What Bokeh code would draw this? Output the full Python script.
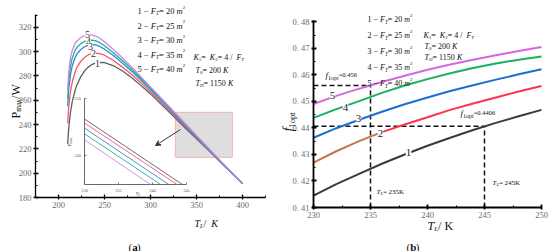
import math
from bokeh.plotting import figure
from bokeh.layouts import row
from bokeh.models import (Label, Range1d, SingleIntervalTicker, FixedTicker, Arrow, VeeHead,
                          LinearAxis)
from bokeh.core.properties import value
from bokeh.embed import file_html
from bokeh.resources import INLINE

FONT = "Liberation Serif"
H = 251

# ---------------- panel (a) data ----------------
T_a = [210, 211, 213, 215, 218, 220, 224, 228, 232, 236, 240, 245, 250, 260, 270, 280, 290, 300, 320, 340, 360, 380, 400]
P_F20 = [224, 236, 250, 259, 268, 272.5, 279, 283.8, 287, 289.2, 290.5, 291.2, 291, 288.3, 283.8, 278.3, 271.8, 265.2, 250.5, 235.5, 221, 206, 191.5]
P_F25 = [241, 254, 267, 275, 283, 287, 291.8, 295, 297.2, 298.4, 298.7, 298.3, 297, 292.5, 287, 281, 274, 267, 252, 236.8, 221.5, 206.4, 191.5]
P_F30 = [255, 268, 281, 288.5, 295, 298, 301.5, 303.8, 305.1, 305.7, 305.5, 304.2, 302, 296.5, 290.2, 283.5, 276.2, 268.8, 253.3, 237.8, 222, 206.6, 191.5]
P_F35 = [261, 275, 288, 295, 301, 303.5, 306.5, 308.3, 309.3, 309.5, 309, 307.3, 304.8, 298.8, 292.2, 285.2, 277.7, 270, 254.2, 238.3, 222.5, 206.8, 191.5]
P_F40 = [268, 282, 295, 301, 306.5, 308.5, 311.5, 313, 313.7, 313.7, 313, 311, 308, 301.5, 294.5, 287, 279, 271, 255, 239, 223, 207, 191.5]
curve_ids = ["1", "2", "3", "4", "5"]
F_T = [20, 25, 30, 35, 40]
T_axis_a = [175, 425]
P_axis_a = [180, 330.5]

# zoomed region and inset data
zoom_box_T = [327, 389]
zoom_box_P = [213, 250]
inset_T_range = [330, 345]
inset_P_range = [234.9, 250]
inset_T_ticks = [330, 335, 340, 345]
inset_P_ticks = [240, 250]
inset_T_start = [330, 330, 330, 330, 330]
inset_T_end = [344.4, 343.6, 342.4, 341.2, 339.7]
inset_P_start = [246.4, 245.7, 244.8, 243.8, 242.75]
inset_P_end = [234.9, 234.9, 234.9, 234.9, 234.9]

# ---------------- panel (b) data ----------------
T_b = [230, 232, 234, 236, 238, 240, 242, 244, 246, 248, 250]
f_F20 = [0.4145, 0.4188, 0.4227, 0.4265, 0.4300, 0.4333, 0.4363, 0.4392, 0.4419, 0.4444, 0.4468]
f_F25 = [0.4269, 0.4312, 0.4350, 0.4384, 0.4413, 0.4440, 0.4468, 0.4492, 0.4515, 0.4537, 0.4558]
f_F30 = [0.4363, 0.4399, 0.4431, 0.4461, 0.4489, 0.4515, 0.4539, 0.4561, 0.4582, 0.4602, 0.4621]
f_F35 = [0.4438, 0.4471, 0.4501, 0.4532, 0.4560, 0.4584, 0.4606, 0.4626, 0.4643, 0.4657, 0.4669]
f_F40 = [0.4490, 0.4521, 0.4548, 0.4573, 0.4597, 0.4619, 0.4639, 0.4657, 0.4674, 0.4690, 0.4705]
T_opt = [235, 245]
f_opt = [0.456, 0.4406]
f_ticks = [0.41, 0.42, 0.43, 0.44, 0.45, 0.46, 0.47, 0.48]
f_tick_labels = ["0. 41", "0. 42", "0. 43", "0. 44", "0. 45", "0. 46", "0. 47", "0. 48"]
T_axis_b = [230, 250]
f_axis_b = [0.41, 0.4805]

COL_A = ["#5e5e5e", "#f2566a", "#2e8ad6", "#22b08a", "#cf84ea"]
COL_B = ["#3a3a3a", "#ff3349", "#1d6ed2", "#18b15e", "#d168e2"]
BROWN = "#c4744e"

# --------- text width estimate (Times metrics) ---------
W = {' ': .25, '=': .564, '−': .564, '-': .333, '/': .278, '.': .25, 'K': .722, 'F': .556,
     'T': .611, 'm': .778, 'L': .611, 'H': .722, 'W': .944, 'P': .556, 'a': .444, 'x': .5,
     'f': .333, 'o': .5, 'p': .5, 't': .278, '(': .333, ')': .333, 'b': .5}
WI = {'F': .611, 'T': .556, 'K': .667, 'm': .722, 'f': .278, 'H': .722, 'L': .556, 'P': .611}


def tw(s, size, style):
    tot = 0.0
    for c in s:
        if style == "italic" and c in WI:
            tot += WI[c]
        else:
            tot += W.get(c, 0.5)
    return tot * size


def rich(p, x, y, pieces, angle=0.0, color="#111111", xr="default", yr="default"):
    off = 0.0
    for text, size, style, shift in pieces:
        if angle == 0:
            dx, dy = off, shift
        else:
            dx, dy = -shift, off
        p.add_layout(Label(x=x, y=y, x_offset=dx, y_offset=dy, text=text, angle=angle,
                           text_font=FONT, text_font_size=f"{size}px", text_font_style=style,
                           text_color=color, text_align="left", text_baseline="alphabetic",
                           x_range_name=xr, y_range_name=yr))
        off += tw(text, size, style)


def style_axis(ax, lw):
    ax.axis_line_color = "black"
    ax.axis_line_width = lw
    ax.major_tick_line_color = "black"
    ax.minor_tick_line_color = "black"
    ax.major_tick_line_width = lw
    ax.major_tick_in = 3
    ax.major_tick_out = 2
    ax.minor_tick_in = 2
    ax.minor_tick_out = 0
    ax.major_label_text_font = FONT
    ax.major_label_text_font_size = "8.5px"
    ax.major_label_text_color = "#6a6a6a"
    ax.major_label_standoff = 2


def make_fig(width, box, xr, yr):
    """box = plot area (left, right, top, bottom) in figure pixels; the frame fills the canvas."""
    L, R, T, B = box
    kx = (xr[1] - xr[0]) / (R - L)
    ky = (yr[1] - yr[0]) / (B - T)
    p = figure(width=width, height=H,
               x_range=Range1d(xr[0] - L * kx, xr[1] + (width - R) * kx),
               y_range=Range1d(yr[0] - (H - B) * ky, yr[1] + T * ky),
               x_axis_location=None, y_axis_location=None,
               output_backend="svg", toolbar_location=None,
               min_border=0, min_border_left=0, min_border_right=0, min_border_top=0, min_border_bottom=0)
    p.outline_line_color = None
    p.grid.visible = False
    return p


# ================= panel (a) =================
pa = make_fig(278, (35, 265, 14, 197), T_axis_a, P_axis_a)
xa = LinearAxis(fixed_location=P_axis_a[0], bounds=tuple(T_axis_a),
                ticker=SingleIntervalTicker(interval=50, num_minor_ticks=2))
ya = LinearAxis(fixed_location=T_axis_a[0], bounds=tuple(P_axis_a),
                ticker=SingleIntervalTicker(interval=20, num_minor_ticks=2))
style_axis(xa, 1.3)
style_axis(ya, 1.3)
pa.add_layout(xa, "below")
pa.add_layout(ya, "left")


def a_xy(px, py):
    return (T_axis_a[0] + (px - 35) * (T_axis_a[1] - T_axis_a[0]) / 230.0,
            P_axis_a[0] + (197 - py) * (P_axis_a[1] - P_axis_a[0]) / 183.0)


pa.quad(left=[zoom_box_T[0]], right=[zoom_box_T[1]], bottom=[zoom_box_P[0]], top=[zoom_box_P[1]],
        fill_color="#dedede", line_color="#f3b3b3", line_width=1)

P_all = [P_F20, P_F25, P_F30, P_F35, P_F40]
for P, c in zip(P_all, COL_A):
    pa.line(T_a, P, line_color=c, line_width=1.3)

lab_pos_a = [(97, 63), (93, 53), (90, 45.5), (88, 41), (87, 34)]
for i in [4, 3, 2, 1, 0]:
    x, y = a_xy(*lab_pos_a[i])
    pa.add_layout(Label(x=x, y=y, text=curve_ids[i], text_font=FONT, text_font_size="10px",
                        text_align="center", text_baseline="middle", text_color="#333333",
                        background_fill_color="white"))

# inset (own ranges mapped into image box 84..186 x 98..184)
ibox = (84, 186, 98, 184)
xs = (inset_T_range[1] - inset_T_range[0]) / (ibox[1] - ibox[0])
ys = (inset_P_range[1] - inset_P_range[0]) / (ibox[3] - ibox[2])
pa.extra_x_ranges = {"inset": Range1d(inset_T_range[0] - ibox[0] * xs, inset_T_range[1] + (278 - ibox[1]) * xs)}
pa.extra_y_ranges = {"inset": Range1d(inset_P_range[0] - (H - ibox[3]) * ys, inset_P_range[1] + ibox[2] * ys)}
IR = dict(x_range_name="inset", y_range_name="inset")
pa.segment(x0=[inset_T_range[0], inset_T_range[0]], y0=[inset_P_range[0], inset_P_range[0]],
           x1=[inset_T_range[1], inset_T_range[0]], y1=[inset_P_range[0], inset_P_range[1]],
           line_color="#444444", line_width=0.8, **IR)
pa.segment(x0=inset_T_ticks, y0=[inset_P_range[0]] * len(inset_T_ticks), x1=inset_T_ticks,
           y1=[inset_P_range[0] + 2 * ys] * len(inset_T_ticks), line_color="#444444", line_width=0.7, **IR)
pa.segment(x0=[inset_T_range[0]] * len(inset_P_ticks), y0=inset_P_ticks,
           x1=[inset_T_range[0] + 2 * xs] * len(inset_P_ticks), y1=inset_P_ticks,
           line_color="#444444", line_width=0.7, **IR)
pa.text(x=inset_T_ticks, y=[inset_P_range[0]] * len(inset_T_ticks), text=[str(t) for t in inset_T_ticks],
        y_offset=6, text_font=value(FONT), text_font_size="4.5px", text_color="#666666",
        text_align="center", text_baseline="middle", **IR)
pa.text(x=[inset_T_range[0]] * len(inset_P_ticks), y=inset_P_ticks, text=[str(t) for t in inset_P_ticks],
        x_offset=-7, text_font=value(FONT), text_font_size="4.5px", text_color="#666666",
        text_align="center", text_baseline="middle", **IR)
for t0, p0, t1, p1, c in zip(inset_T_start, inset_P_start, inset_T_end, inset_P_end, COL_A):
    pa.line([t0, t1], [p0, p1], line_color=c, line_width=0.9, **IR)

x, y = a_xy(135, 193)
rich(pa, x, y, [("T", 5, "italic", 0), ("L", 3.5, "italic", -1)], color="#444444")
x, y = a_xy(69, 146)
rich(pa, x, y, [("P", 5, "normal", 0), ("max", 3.5, "normal", -1)], angle=math.pi / 2, color="#444444")

x0, y0 = a_xy(180, 129)
x1, y1 = a_xy(155, 145)
pa.add_layout(Arrow(x_start=x0, y_start=y0, x_end=x1, y_end=y1, line_color="#333333", line_width=1,
                    end=VeeHead(size=5, fill_color="#333333", line_color="#333333")))

# legend text
s = 8.5
rows_y = [10.5, 25, 39.5, 54, 68.5]
for cid, F, yy in zip(curve_ids, F_T, rows_y):
    x, y = a_xy(137, yy)
    rich(pa, x, y, [(f"{cid} − ", s, "normal", 0), ("F", s, "italic", 0), ("T", 5.5, "italic", -2),
                    (f" = {F}", s, "normal", 0), ("m", s, "italic", 0), ("2", 5, "normal", 4)])
s2 = 8
x, y = a_xy(193, 57)
rich(pa, x, y, [("K", s2, "italic", 0), ("1", 5, "normal", -2), (" = ", s2, "normal", 0),
                ("K", s2, "italic", 0), ("2", 5, "normal", -2), (" = 4 / ", s2, "normal", 0),
                ("F", s2, "italic", 0), ("T", 5, "italic", -2)])
x, y = a_xy(195, 70)
rich(pa, x, y, [("T", s2, "italic", 0), ("0", 5, "normal", -2), (" = 200", s2, "normal", 0), ("K", s2, "italic", 0)])
x, y = a_xy(195, 83)
rich(pa, x, y, [("T", s2, "italic", 0), ("H", 5, "italic", -2), (" = 1150", s2, "normal", 0), ("K", s2, "italic", 0)])

# axis labels
x, y = a_xy(15.5, 118)
rich(pa, x, y, [("P", 12, "normal", 0), ("max", 7.5, "normal", -2.5), ("/W", 12, "normal", 0)], angle=math.pi / 2)
x, y = a_xy(194, 223)
rich(pa, x, y, [("T", 10, "italic", 0), ("L", 6, "italic", -2.5), (" / ", 10, "normal", 0), ("K", 10, "italic", 0)])
x, y = a_xy(128, 246)
rich(pa, x, y, [("(", 11, "normal", 0), ("a", 11, "bold", 0), (")", 11, "normal", 0)])

# ================= panel (b) =================
OXB = 278  # panel (b) starts at this page x
pb = make_fig(272, (313 - OXB, 541 - OXB, 20, 207), T_axis_b, f_axis_b)
xb = LinearAxis(fixed_location=f_axis_b[0], bounds=tuple(T_axis_b),
                ticker=SingleIntervalTicker(interval=5, num_minor_ticks=2))
minor_f = [round((a + b) / 2, 4) for a, b in zip(f_ticks[:-1], f_ticks[1:])]
yb = LinearAxis(fixed_location=T_axis_b[0], bounds=tuple(f_axis_b),
                ticker=FixedTicker(ticks=f_ticks, minor_ticks=minor_f))
yb.major_label_overrides = dict(zip(f_ticks, f_tick_labels))
style_axis(xb, 1.8)
style_axis(yb, 1.8)
pb.add_layout(xb, "below")
pb.add_layout(yb, "left")


def b_xy(px, py):
    return (T_axis_b[0] + (px - 313) * (T_axis_b[1] - T_axis_b[0]) / 228.0,
            f_axis_b[0] + (207 - py) * (f_axis_b[1] - f_axis_b[0]) / 187.0)


pb.segment(x0=T_opt, y0=[f_axis_b[0]] * 2, x1=T_opt, y1=f_opt, line_color="#111111", line_width=1.5, line_dash="5 3")
pb.segment(x0=[T_axis_b[0]] * 2, y0=f_opt, x1=T_opt, y1=f_opt, line_color="#111111", line_width=1.5, line_dash="5 3")

pb.line(T_b, f_F20, line_color=COL_B[0], line_width=2)
pb.line(T_b[:4], f_F25[:4], line_color=BROWN, line_width=2)
pb.line(T_b[3:], f_F25[3:], line_color=COL_B[1], line_width=2)
pb.line(T_b, f_F30, line_color=COL_B[2], line_width=2)
pb.line(T_b, f_F35, line_color=COL_B[3], line_width=2)
pb.line(T_b, f_F40, line_color=COL_B[4], line_width=2)

lab_pos_b = [(408, 152), (380, 133), (358, 118), (345, 107), (332, 95)]
for i in range(5):
    x, y = b_xy(*lab_pos_b[i])
    pb.add_layout(Label(x=x, y=y, text=curve_ids[i], text_font=FONT, text_font_size="11px",
                        text_align="center", text_baseline="middle", text_color="#222222",
                        background_fill_color="white"))

rows_yb = [19, 35, 51, 67, 83]
sb = 8
for cid, F, yy in zip(curve_ids, F_T, rows_yb):
    x, y = b_xy(367, yy)
    rich(pb, x, y, [(f"{cid} − ", sb, "normal", 0), ("F", sb, "italic", 0), ("T", 5.2, "italic", -2),
                    (f" = {F}", sb, "normal", 0), ("m", sb, "italic", 0), ("2", 5, "normal", 4)])
x, y = b_xy(423, 35)
rich(pb, x, y, [("K", sb, "italic", 0), ("1", 5, "normal", -2), (" = ", sb, "normal", 0),
                ("K", sb, "italic", 0), ("2", 5, "normal", -2), (" = 4 / ", sb, "normal", 0),
                ("F", sb, "italic", 0), ("T", 5, "italic", -2)])
x, y = b_xy(424, 46)
rich(pb, x, y, [("T", sb, "italic", 0), ("0", 5, "normal", -2), (" = 200", sb, "normal", 0), ("K", sb, "italic", 0)])
x, y = b_xy(424, 57)
rich(pb, x, y, [("T", sb, "italic", 0), ("H", 5, "italic", -2), (" = 1150", sb, "normal", 0), ("K", sb, "italic", 0)])

x, y = b_xy(325, 74)
rich(pb, x, y, [("f", 9, "italic", 0), ("1opt", 6, "normal", -3), ("=0.456", 6.5, "normal", 0)])
x, y = b_xy(460, 112)
rich(pb, x, y, [("f", 9, "italic", 0), ("1opt", 6, "normal", -3), ("=0.4406", 6.5, "normal", 0)])
x, y = b_xy(376, 191.5)
rich(pb, x, y, [("T", 7, "italic", 0), ("L", 4.5, "italic", -1.5), (" = 235K", 7, "normal", 0)])
x, y = b_xy(492, 182.5)
rich(pb, x, y, [("T", 7, "italic", 0), ("L", 4.5, "italic", -1.5), (" = 245K", 7, "normal", 0)])

x, y = b_xy(288, 131)
rich(pb, x, y, [("f", 14, "italic", 0), ("1opt", 8.5, "normal", -3)], angle=math.pi / 2)
x, y = b_xy(427, 225)
rich(pb, x, y, [("T", 12, "italic", 0), ("L", 7, "italic", -3), (" / K", 12, "normal", 0)])
x, y = b_xy(406, 246)
rich(pb, x, y, [("(", 11, "normal", 0), ("b", 11, "bold", 0), (")", 11, "normal", 0)])

layout = row(pa, pb)
open("out.html", "w").write(file_html(layout, INLINE))
